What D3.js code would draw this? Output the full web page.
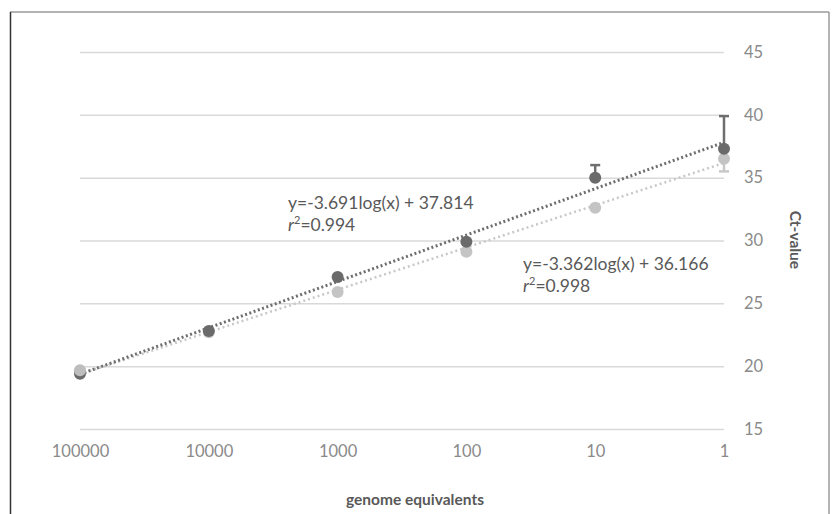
<!DOCTYPE html>
<html>
<head>
<meta charset="utf-8">
<script src="https://cdn.jsdelivr.net/npm/d3@7"></script>
<style>
  body { margin: 0; background: #fff; }
  svg { display: block; font-family: Lato, "Open Sans", sans-serif; }
</style>
</head>
<body>
<svg id="chart" width="835" height="514"></svg>
<script>
// genome equivalents (x axis runs from 100000 down to 1)
let genomeEq = [100000, 10000, 1000, 100, 10, 1];
let ctDark = [19.4, 22.8, 27.1, 29.9, 35.0, 37.3];
let ctLight = [19.6, 22.7, 25.9, 29.1, 32.6, 36.5];
// error bars, in Ct units, 0 = none
let errDarkUp = [0, 0, 0, 0, 1.0, 2.6];
let errLightDown = [0, 0, 0, 0, 0, 1.0];
let yTicks = [15, 20, 25, 30, 35, 40, 45];
let fitDark = { slope: -3.691, icept: 37.814, label: "y=-3.691log(x) + 37.814", r2: "0.994" };
let fitLight = { slope: -3.362, icept: 36.166, label: "y=-3.362log(x) + 36.166", r2: "0.998" };

let svg = d3.select("#chart");
let margin = { top: 52, left: 80, right: 111, bottom: 85 };
let width = 835, height = 514;
let innerWidth = width - margin.left - margin.right;
let innerHeight = height - margin.top - margin.bottom;
let font = "Lato, 'Open Sans', sans-serif";

// frame
svg.append("line").attr("x1", 10).attr("x2", 829).attr("y1", 12).attr("y2", 12)
    .attr("stroke", "#9a9a9a").attr("stroke-width", 1.5);
svg.append("line").attr("x1", 10.5).attr("x2", 10.5).attr("y1", 12).attr("y2", 514)
    .attr("stroke", "#333").attr("stroke-width", 1.5);
svg.append("line").attr("x1", 829).attr("x2", 829).attr("y1", 12).attr("y2", 514)
    .attr("stroke", "#9a9a9a").attr("stroke-width", 1.5);

let g = svg.append("g").attr("transform", `translate(${margin.left}, ${margin.top})`);

let xScale = d3.scaleLog().domain([100000, 1]).range([0, innerWidth]);
let yScale = d3.scaleLinear().domain([15, 45]).range([innerHeight, 0]);

// gridlines + y labels on the right
let yAxis = g.append("g").attr("transform", `translate(${innerWidth},0)`)
    .call(d3.axisRight(yScale).tickValues(yTicks).tickSize(-innerWidth).tickPadding(20));
yAxis.attr("font-family", font);
yAxis.select(".domain").remove();
yAxis.selectAll(".tick line").attr("stroke", "#d9d9d9").attr("stroke-width", 1.5);
yAxis.selectAll(".tick text").attr("fill", "#8a8a8a").style("font-size", "16.5px");

// x labels
let xAxis = g.append("g").attr("transform", `translate(0,${innerHeight})`)
    .call(d3.axisBottom(xScale).tickValues(genomeEq).tickFormat(d3.format("d")).tickSize(0).tickPadding(16));
xAxis.attr("font-family", font);
xAxis.select(".domain").remove();
xAxis.selectAll(".tick text").attr("fill", "#8a8a8a").style("font-size", "16.5px");

// trendlines
function trend(fit, color, dash, w) {
    let pts = [100000, 1].map(x => [xScale(x), yScale(fit.slope * Math.log10(x) + fit.icept)]);
    g.append("path").attr("d", d3.line()(pts)).attr("fill", "none")
        .attr("stroke", color).attr("stroke-width", w).attr("stroke-dasharray", dash);
}
trend(fitLight, "#c8c8c8", "2,3", 2.5);
trend(fitDark, "#6e6e6e", "2,2.5", 3);

// error bars
function errBar(x, y0, y1, color) {
    g.append("line").attr("x1", xScale(x)).attr("x2", xScale(x))
        .attr("y1", yScale(y0)).attr("y2", yScale(y1)).attr("stroke", color).attr("stroke-width", 2.5);
    g.append("line").attr("x1", xScale(x) - 5).attr("x2", xScale(x) + 5)
        .attr("y1", yScale(y1)).attr("y2", yScale(y1)).attr("stroke", color).attr("stroke-width", 2.5);
}
genomeEq.forEach((x, i) => {
    if (errLightDown[i]) errBar(x, ctLight[i], ctLight[i] - errLightDown[i], "#c8c8c8");
});

// points
g.selectAll(".ptLight").data(genomeEq).enter().append("circle")
    .attr("cx", d => xScale(d)).attr("cy", (d, i) => yScale(ctLight[i]))
    .attr("r", 6).attr("fill", "#c4c4c4");
genomeEq.forEach((x, i) => {
    if (errDarkUp[i]) errBar(x, ctDark[i], ctDark[i] + errDarkUp[i], "#6e6e6e");
});
g.selectAll(".ptDark").data(genomeEq).enter().append("circle")
    .attr("cx", d => xScale(d)).attr("cy", (d, i) => yScale(ctDark[i]))
    .attr("r", 6).attr("fill", "#6a6a6a");
// light point at 100000 sits on top of the dark one
g.append("circle").attr("cx", xScale(genomeEq[0])).attr("cy", yScale(ctLight[0]) - 1)
    .attr("r", 6).attr("fill", "#bdbdbd");

// equation labels
function eqLabel(fit, x, y) {
    svg.append("text").attr("x", x).attr("y", y).attr("fill", "#595959")
        .style("font-size", "17.5px").text(fit.label);
    let r = svg.append("text").attr("x", x).attr("y", y + 22).attr("fill", "#595959").style("font-size", "17.5px");
    r.append("tspan").attr("font-style", "italic").text("r");
    r.append("tspan").attr("dy", -7).style("font-size", "11px").text("2");
    r.append("tspan").attr("dy", 7).text("=" + fit.r2);
}
eqLabel(fitDark, 288, 209);
eqLabel(fitLight, 523, 270);

// axis titles
svg.append("text").attr("transform", "translate(790,240) rotate(90)")
    .attr("text-anchor", "middle").attr("fill", "#595959")
    .style("font-size", "15.5px").style("font-weight", "bold").text("Ct-value");
svg.append("text").attr("x", 415).attr("y", 505)
    .attr("text-anchor", "middle").attr("fill", "#595959")
    .style("font-size", "15.5px").style("font-weight", "bold").text("genome equivalents");
</script>
</body>
</html>
